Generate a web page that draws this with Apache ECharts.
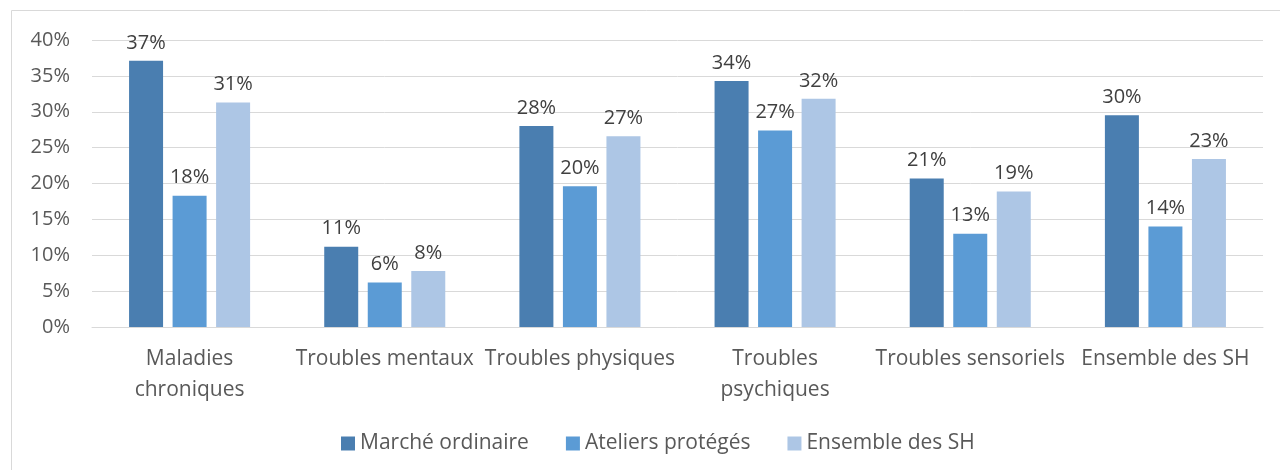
<!DOCTYPE html>
<html>
<head>
<meta charset="utf-8">
<script src="https://cdn.jsdelivr.net/npm/echarts@6/dist/echarts.min.js"></script>
<style>
  html, body { margin: 0; padding: 0; background: #fff; }
  #chart { width: 1280px; height: 470px; }
</style>
</head>
<body>
<div id="chart"></div>
<script>
const categories = ['Maladies\nchroniques', 'Troubles mentaux', 'Troubles physiques', 'Troubles\npsychiques', 'Troubles sensoriels', 'Ensemble des SH'];
const seriesNames = ['Marché ordinaire', 'Ateliers protégés', 'Ensemble des SH'];
const marcheOrdinaire = [37.1, 11.2, 28.0, 34.3, 20.7, 29.5];
const ateliersProteges = [18.3, 6.2, 19.6, 27.4, 13.0, 14.0];
const ensembleSH = [31.3, 7.8, 26.6, 31.8, 18.9, 23.4];
const yTicks = [0, 5, 10, 15, 20, 25, 30, 35, 40];

const colors = ['#4a7eb0', '#5b9bd5', '#adc6e5'];
const font = '"Open Sans", sans-serif';

const chart = echarts.init(document.getElementById('chart'), null, { renderer: 'canvas' });

function bar(name, data, color) {
  return {
    name: name,
    type: 'bar',
    data: data,
    barWidth: 34,
    barGap: '28%',
    itemStyle: { color: color },
    label: {
      show: true,
      position: 'top',
      distance: 8,
      color: '#404040',
      fontFamily: font,
      fontSize: 20,
      formatter: p => Math.round(p.value) + '%'
    }
  };
}

chart.setOption({
  animation: false,
  textStyle: { fontFamily: font },
  graphic: [{
    type: 'rect',
    shape: { x: 11.5, y: 10.5, width: 1290, height: 480 },
    style: { fill: 'none', stroke: '#d9d9d9', lineWidth: 1 },
    silent: true
  }],
  grid: { left: 92, right: 17, top: 40, bottom: 143 },
  legend: {
    data: seriesNames,
    top: 428,
    left: 336,
    itemWidth: 14,
    itemHeight: 14,
    itemGap: 37,
    icon: 'rect',
    textStyle: { color: '#595959', fontSize: 21, fontFamily: font }
  },
  xAxis: {
    type: 'category',
    data: categories,
    axisLine: { lineStyle: { color: '#d9d9d9' } },
    axisTick: { show: false },
    axisLabel: { color: '#595959', fontSize: 21, fontFamily: font, lineHeight: 31, margin: 17, interval: 0 }
  },
  yAxis: {
    type: 'value',
    min: yTicks[0],
    max: yTicks[yTicks.length - 1],
    interval: 5,
    axisLine: { show: false },
    axisTick: { show: false },
    splitLine: { lineStyle: { color: '#d9d9d9', width: 1 } },
    axisLabel: { color: '#595959', fontSize: 20, fontFamily: font, margin: 22, formatter: v => v + '%' }
  },
  series: [
    bar(seriesNames[0], marcheOrdinaire, colors[0]),
    bar(seriesNames[1], ateliersProteges, colors[1]),
    bar(seriesNames[2], ensembleSH, colors[2])
  ]
});
</script>
</body>
</html>
